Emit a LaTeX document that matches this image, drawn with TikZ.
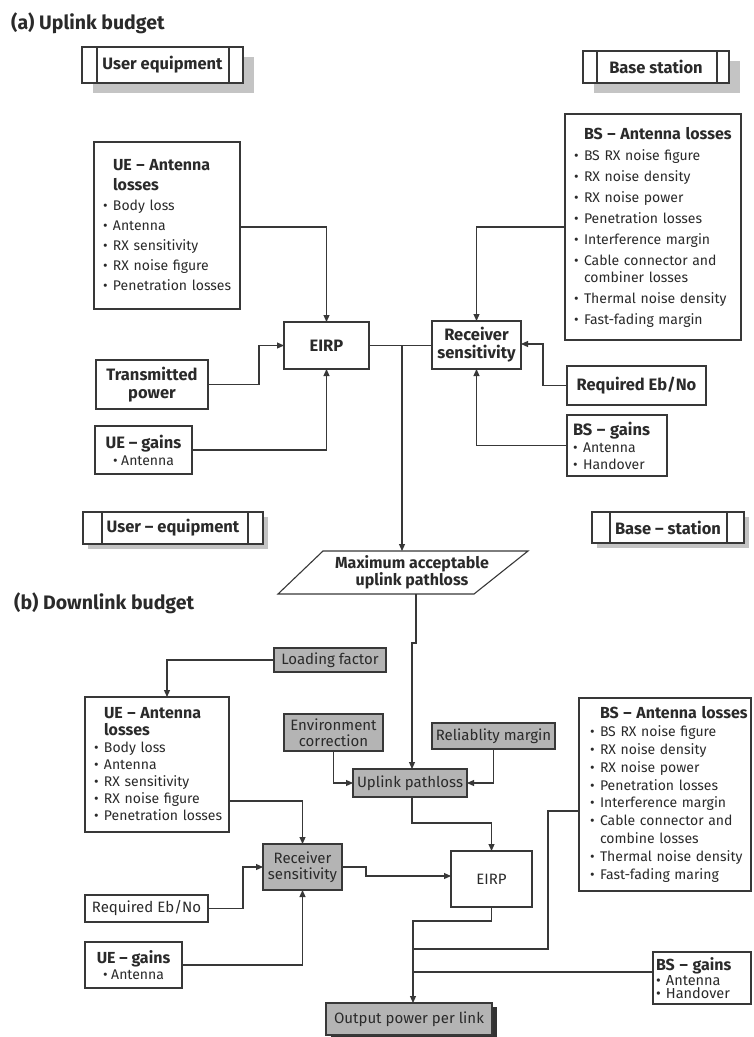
\documentclass[tikz,border=0pt]{standalone}
\usepackage{fontspec}
\setmainfont{Fira Sans}
\usetikzlibrary{arrows.meta,shadows}
\definecolor{ln}{HTML}{383838}
\definecolor{gf}{HTML}{B4B4B4}
\definecolor{sh}{HTML}{C4C4C4}
\definecolor{tx}{HTML}{2A2A2A}
\newcommand{\itm}[1]{\mbox{\makebox[10pt][l]{•}#1}}
\newcommand{\ttl}[1]{\mbox{\hspace*{10pt}\fontsize{16}{17}\selectfont\textbf{#1}}}
\newcommand{\cnt}[1]{\mbox{\hspace*{10pt}#1}}
\tikzset{
  bx/.style={draw=ln, line width=1.1pt, fill=white, inner sep=0pt, outer sep=0pt, text=tx, font=\fontsize{14}{20}\selectfont},
  gb/.style={bx, fill=gf},
  cn/.style={draw=ln, line width=1.1pt},
  ar/.style={cn, -{Triangle[length=7pt,width=6pt]}},
  hd/.style={bx, font=\fontsize{16.5}{20}\selectfont\bfseries, drop shadow={shadow xshift=11pt, shadow yshift=-10pt, fill=sh, opacity=1}},
  hdb/.style={bx, font=\fontsize{16.5}{20}\selectfont\bfseries, drop shadow={shadow xshift=5pt, shadow yshift=-5pt, fill=sh, opacity=1}},
  lb/.style={bx, font=\fontsize{16.5}{18}\selectfont\bfseries, align=center},
  gl/.style={gb, font=\fontsize{15}{16}\selectfont, align=center},
  wl/.style={bx, font=\fontsize{15}{16}\selectfont, align=center},
  title/.style={anchor=west, inner sep=0pt, text=tx, font=\fontsize{19.5}{22}\selectfont\bfseries},
}
\begin{document}
\begin{tikzpicture}[x=1pt,y=-1pt]
\useasboundingbox (0,0) rectangle (753,1037);
\fill[white] (0,0) rectangle (753,1037);

% ---------- (a) Uplink ----------
\node[title] (ta) at (11,23) {(a) Uplink budget};

\node[hd, minimum width=161pt, minimum height=36pt] (ueh) at (162.5,65) {User equipment};
\draw[cn] ([xshift=15pt]ueh.north west) -- ([xshift=15pt]ueh.south west);
\draw[cn] ([xshift=-14pt]ueh.north east) -- ([xshift=-14pt]ueh.south east);

\node[hd, minimum width=146pt, minimum height=32pt] (bsh) at (656,67) {Base station};
\draw[cn] ([xshift=14pt]bsh.north west) -- ([xshift=14pt]bsh.south west);
\draw[cn] ([xshift=-12pt]bsh.north east) -- ([xshift=-12pt]bsh.south east);

\node[bx, align=left, text width=128pt, inner xsep=9pt, minimum height=167pt] (uel) at (167,225.5)
 {\ttl{UE – Antenna}\\ \ttl{losses}\\ \itm{Body loss}\\ \itm{Antenna}\\ \itm{RX sensitivity}\\ \itm{RX noise figure}\\ \itm{Penetration losses}};

\node[bx, align=left, text width=158pt, inner xsep=9pt, minimum height=226pt, font=\fontsize{14}{21}\selectfont] (bsl) at (653,227)
 {\ttl{BS – Antenna losses}\\ \itm{BS RX noise figure}\\ \itm{RX noise density}\\ \itm{RX noise power}\\ \itm{Penetration losses}\\ \itm{Interference margin}\\ \itm{Cable connector and}\\[-4pt] \cnt{combiner losses}\\ \itm{Thermal noise density}\\ \itm{Fast-fading margin}};

\node[lb, minimum width=85pt, minimum height=47pt] (eirp) at (326.5,345.5) {EIRP};
\node[lb, minimum width=89pt, minimum height=48pt] (rs) at (476.5,345) {Receiver\\ sensitivity};
\node[lb, minimum width=112pt, minimum height=49pt] (tp) at (152,384.5) {Transmitted\\ power};
\node[bx, align=center, minimum width=97pt, minimum height=48pt, font=\fontsize{14}{17}\selectfont] (ueg) at (143.5,450)
 {\textbf{\fontsize{16.5}{17}\selectfont UE – gains}\\ • Antenna};
\node[lb, minimum width=139pt, minimum height=39pt] (reb) at (636.5,385.5) {Required Eb/No};
\node[bx, align=left, text width=88pt, inner xsep=6pt, minimum height=61pt, font=\fontsize{14}{17}\selectfont] (bsg) at (617,445.5)
 {\mbox{\textbf{\fontsize{16.5}{17}\selectfont BS – gains}}\\ \itm{Antenna}\\ \itm{Handover}};

\node[hdb, minimum width=180pt, minimum height=32pt] (ue2h) at (173,528) {User – equipment};
\draw[cn] ([xshift=19pt]ue2h.north west) -- ([xshift=19pt]ue2h.south west);
\draw[cn] ([xshift=-15pt]ue2h.north east) -- ([xshift=-15pt]ue2h.south east);

\node[hdb, minimum width=152pt, minimum height=31pt] (bs2h) at (668,527.5) {Base – station};
\draw[cn] ([xshift=18pt]bs2h.north west) -- ([xshift=18pt]bs2h.south west);
\draw[cn] ([xshift=-17pt]bs2h.north east) -- ([xshift=-17pt]bs2h.south east);

\draw[cn, fill=white] (323,551) -- (528,551) -- (474,594) -- (278,594) -- cycle;
\node[inner sep=0pt, align=center, text=tx, font=\fontsize{16}{17}\selectfont\bfseries] (para) at (412,572) {Maximum acceptable\\ uplink pathloss};
\coordinate (paratop) at (402,551);
\coordinate (parabot) at (416,594);
\coordinate (j1) at (402,345.5);

\draw[ar] ([yshift=-1.5pt]uel.east) -| (eirp.north);
\draw[ar] (tp.east) -- ++(51,0) |- (eirp.west);
\draw[ar] (ueg.east) -| (eirp.south);
\draw[cn] (eirp.east) -- (eirp.east -| rs.west);
\draw[ar] (j1) -- (paratop);
\draw[ar] (bsl.west) -| (rs.north);
\draw[ar] (reb.west) -- ++(-24,0) |- ([yshift=1pt]rs.east);
\draw[ar] (bsg.west) -| (rs.south);

% ---------- (b) Downlink ----------
\node[title] (tb) at (14,603) {(b) Downlink budget};

\node[gl, minimum width=112pt, minimum height=24pt] (lf) at (330,660) {Loading factor};
\node[bx, align=left, text width=126pt, inner xsep=9pt, minimum height=135pt, font=\fontsize{14}{17}\selectfont] (uel2) at (157,764.5)
 {\ttl{UE – Antenna}\\ \ttl{losses}\\ \itm{Body loss}\\ \itm{Antenna}\\ \itm{RX sensitivity}\\ \itm{RX noise figure}\\ \itm{Penetration losses}};
\node[gl, minimum width=99pt, minimum height=37pt] (env) at (333.5,732.5) {Environment\\ correction};
\node[gl, minimum width=114pt, minimum height=28pt] (ulp) at (410,783) {Uplink pathloss};
\node[gl, minimum width=123pt, minimum height=26pt] (rel) at (493.5,736) {Reliablity margin};
\node[bx, align=left, text width=150pt, inner xsep=11pt, minimum height=193pt, font=\fontsize{14}{17.8}\selectfont] (bsl2) at (665,794.5)
 {\ttl{BS – Antenna losses}\\ \itm{BS RX noise figure}\\ \itm{RX noise density}\\ \itm{RX noise power}\\ \itm{Penetration losses}\\ \itm{Interference margin}\\ \itm{Cable connector and}\\ \cnt{combine losses}\\ \itm{Thermal noise density}\\ \itm{Fast-fading maring}};
\node[gl, minimum width=79pt, minimum height=46pt] (rs2) at (302.5,867) {Receiver\\ sensitivity};
\node[wl, minimum width=81pt, minimum height=56pt] (eirp2) at (491.5,879) {EIRP};
\node[wl, minimum width=123pt, minimum height=27pt] (reb2) at (146.5,908.5) {Required Eb/No};
\node[bx, align=center, minimum width=97pt, minimum height=46pt, font=\fontsize{14}{16}\selectfont] (ueg2) at (133.5,965)
 {\textbf{\fontsize{16}{16}\selectfont UE – gains}\\ • Antenna};
\node[bx, align=left, text width=92pt, inner xsep=3pt, minimum height=52pt, font=\fontsize{14.5}{13}\selectfont] (bsg2) at (702,978)
 {\mbox{\textbf{\fontsize{16}{13}\selectfont BS – gains}}\\ \itm{Antenna}\\ \itm{Handover}};
\node[gl, minimum width=166pt, minimum height=32pt, drop shadow={shadow xshift=5pt, shadow yshift=-4pt, fill=black!80, opacity=1}] (out) at (409,1019) {Output power per link};

\coordinate (j2) at (413,949);
\coordinate (j3) at (413,972);

\draw[ar] (parabot) -- (416,643) -- (412,643) -- ([xshift=2pt]ulp.north);
\draw[ar] (lf.west) -| ([xshift=10pt]uel2.north);
\draw[ar] (env.south) |- (ulp.west);
\draw[ar] (rel.south) |- (ulp.east);
\draw[ar] ([xshift=2pt]ulp.south) -- ++(0,26) -| (eirp2.north);
\draw[ar] ([yshift=-36.5pt]uel2.east) -| (rs2.north);
\draw[ar] (reb2.east) -- ++(35,0) |- (rs2.west);
\draw[ar] (ueg2.east) -| (rs2.south);
\draw[ar] (rs2.east) -- ++(24,0) |- ([yshift=3pt]eirp2.west);
\draw[ar] (eirp2.south) -- ++(0,14) -| ([xshift=4pt]out.north);
\draw[cn] ([yshift=-16.5pt]bsl2.west) -- ++(-31,0) |- (j2);
\draw[cn] ([yshift=6pt]bsg2.west) -- (j3);
\end{tikzpicture}
\end{document}
